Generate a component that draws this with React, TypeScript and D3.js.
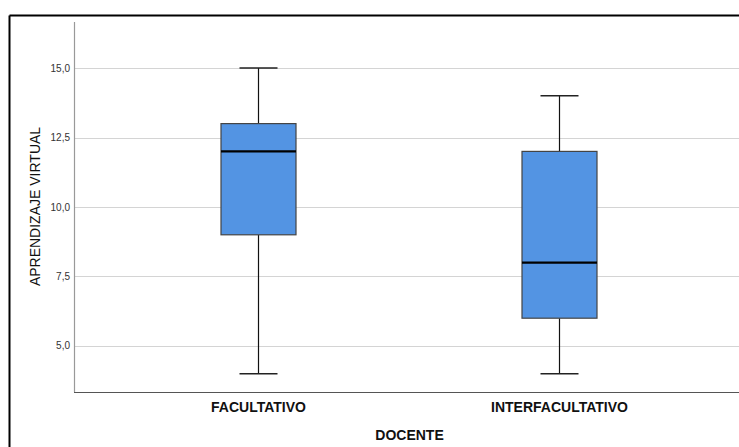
import React from "react";
import * as d3 from "d3";

const categories = ["FACULTATIVO", "INTERFACULTATIVO"];
const minValues = [4, 4];
const q1Values = [9, 6];
const medianValues = [12, 8];
const q3Values = [13, 12];
const maxValues = [15, 14];
const yTicks = [5, 7.5, 10, 12.5, 15];

const W = 739;
const H = 447;

export default function App() {
  const y = d3.scaleLinear().domain([3.345, 16.655]).range([392, 22]);
  const x = d3.scaleBand().domain(categories).range([108, 710]).padding(0);
  const boxW = 75;
  const capW = 38;
  const fmt = (v: number) => d3.format(".1f")(v).replace(".", ",");
  const font = "'Liberation Sans', Arial, sans-serif";

  return (
    <svg width={W} height={H} style={{ position: "absolute", left: 0, top: 0, background: "#fff" }}>
      {/* frame */}
      <line x1={9.5} y1={15.5} x2={W} y2={15.5} stroke="#000" strokeWidth={2} />
      <line x1={9.5} y1={15.5} x2={9.5} y2={H} stroke="#000" strokeWidth={2} />
      {/* grid */}
      {yTicks.map((t) => (
        <g key={t}>
          <line x1={74} x2={W} y1={Math.round(y(t)) + 0.5} y2={Math.round(y(t)) + 0.5} stroke="#d4d4d4" strokeWidth={1.2} />
          <text x={70} y={y(t) + 3.5} textAnchor="end" fontSize={10} fontFamily={font} fill="#333">
            {fmt(t)}
          </text>
        </g>
      ))}
      {/* axes */}
      <line x1={74.5} x2={74.5} y1={22} y2={392} stroke="#999" strokeWidth={1.2} />
      <line x1={74} x2={W} y1={392.5} y2={392.5} stroke="#555" strokeWidth={1.2} />
      {/* boxes */}
      {categories.map((c, i) => {
        const cx = (x(c) as number) + x.bandwidth() / 2;
        return (
          <g key={c}>
            <line x1={cx} x2={cx} y1={y(maxValues[i])} y2={y(q3Values[i])} stroke="#111" strokeWidth={1.2} />
            <line x1={cx} x2={cx} y1={y(q1Values[i])} y2={y(minValues[i])} stroke="#111" strokeWidth={1.2} />
            <line x1={cx - capW / 2} x2={cx + capW / 2} y1={y(maxValues[i])} y2={y(maxValues[i])} stroke="#222" strokeWidth={1.5} />
            <line x1={cx - capW / 2} x2={cx + capW / 2} y1={y(minValues[i])} y2={y(minValues[i])} stroke="#222" strokeWidth={1.5} />
            <rect
              x={cx - boxW / 2}
              y={y(q3Values[i])}
              width={boxW}
              height={y(q1Values[i]) - y(q3Values[i])}
              fill="#5394e3"
              stroke="#444"
              strokeWidth={1.2}
            />
            <line x1={cx - boxW / 2} x2={cx + boxW / 2} y1={y(medianValues[i])} y2={y(medianValues[i])} stroke="#000" strokeWidth={2.2} />
            <text x={cx} y={412} textAnchor="middle" fontSize={14} fontWeight="bold" fontFamily={font} fill="#111">
              {c}
            </text>
          </g>
        );
      })}
      <text x={409.5} y={440} textAnchor="middle" fontSize={14} fontWeight="bold" fontFamily={font} fill="#111">
        DOCENTE
      </text>
      <text
        transform={`translate(40, 206.5) rotate(-90)`}
        textAnchor="middle"
        fontSize={14}
        fontFamily={font}
        fill="#111"
      >
        APRENDIZAJE VIRTUAL
      </text>
    </svg>
  );
}
